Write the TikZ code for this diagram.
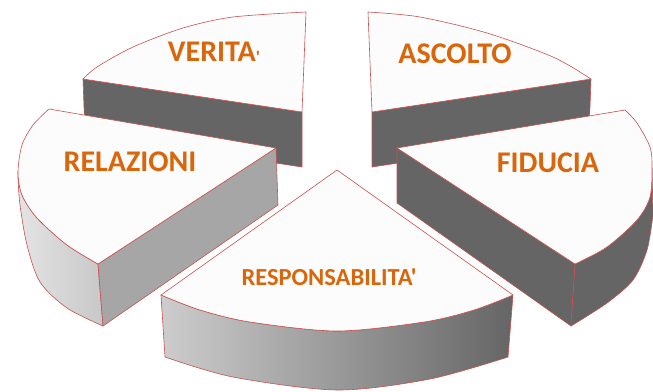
\documentclass[tikz,border=0pt]{standalone}
\usepackage{fontspec}
\newfontfamily\labfont{Carlito}
\definecolor{edgecol}{RGB}{200,80,80}
\definecolor{topcol}{RGB}{252,252,252}
\definecolor{darkcol}{RGB}{101,101,101}
\definecolor{midcol}{RGB}{166,166,166}
\definecolor{lightcol}{RGB}{228,228,228}
\definecolor{lightcolb}{RGB}{200,200,200}
\definecolor{frontl}{RGB}{205,205,205}
\definecolor{labcol}{RGB}{218,102,12}
\tikzset{
  face/.style={draw=edgecol, line width=0.6pt, line join=round},
  topface/.style={face, fill=topcol},
  darkface/.style={face, fill=darkcol},
  slicetext/.style={font=\labfont\bfseries\fontsize{30}{30}\selectfont, text=labcol, inner sep=0pt, anchor=base},
  smalltext/.style={slicetext, font=\labfont\bfseries\fontsize{24.5}{24.5}\selectfont}
}
\begin{document}
\begin{tikzpicture}[x=1pt,y=-1pt]
\useasboundingbox (0,0) rectangle (653,391);
% VERITA'
\path[darkface] (83,79) -- (302,112) -- (302,167) -- (85,134) -- cycle;
\path[topface] (302,112) -- plot[smooth] coordinates {(83,79) (97,67) (133,47) (183,28) (233,17) (306,12)} -- cycle;
% ASCOLTO
\path[darkface] (372,112) -- (591,79) -- (589,134) -- (372,167) -- cycle;
\path[topface] (372,112) -- plot[smooth] coordinates {(591,79) (553,57) (487,33) (420,17) (368,12)} -- cycle;
% RELAZIONI
\path[face, left color=lightcol, right color=lightcolb] plot[smooth] coordinates {(18,172) (22,195) (37,218) (67,245) (98,264)} -- (103,326) -- plot[smooth] coordinates {(103,326) (67,308) (40,282) (27,245) (20,205) (18,178)} -- cycle;
\path[face, fill=midcol] (276,148) -- (278,205) -- (103,326) -- (98,264) -- cycle;
\path[topface] (276,148) -- plot[smooth] coordinates {(98,264) (67,245) (37,218) (22,195) (18,172) (22,145) (33,125) (49,109)} -- cycle;
% FIDUCIA
\path[darkface] (397,148) -- (575,264) -- (571,326) -- (397,203) -- cycle;
\path[darkface] plot[smooth] coordinates {(652,168) (650,197) (637,220) (607,247) (575,264)} -- (571,326) -- plot[smooth] coordinates {(571,326) (607,303) (633,280) (647,250) (653,215)} -- cycle;
\path[topface] (397,148) -- plot[smooth] coordinates {(625,110) (637,123) (650,147) (652,167) (650,197) (637,220) (607,247) (575,264)} -- cycle;
% RESPONSABILITA'
\path[face, left color=frontl, right color=darkcol] plot[smooth] coordinates {(161,295) (200,310) (250,322) (337,331) (424,322) (474,310) (513,295)} -- (508,357) -- plot[smooth] coordinates {(508,357) (430,379) (337,390) (233,377) (165,357)} -- cycle;
\path[topface] (337,170) -- plot[smooth] coordinates {(161,295) (200,310) (250,322) (337,331) (424,322) (474,310) (513,295)} -- cycle;
% labels
\node[slicetext] (verita) at (214,61) {VERITA\raisebox{-2.5pt}{\fontsize{18}{18}\selectfont'}};
\node[slicetext] (ascolto) at (455,63) {ASCOLTO};
\node[slicetext] (relazioni) at (130,171) {RELAZIONI};
\node[slicetext] (fiducia) at (548,172) {FIDUCIA};
\node[smalltext] (respons) at (329,285) {RESPONSABILITA'};
\end{tikzpicture}
\end{document}
